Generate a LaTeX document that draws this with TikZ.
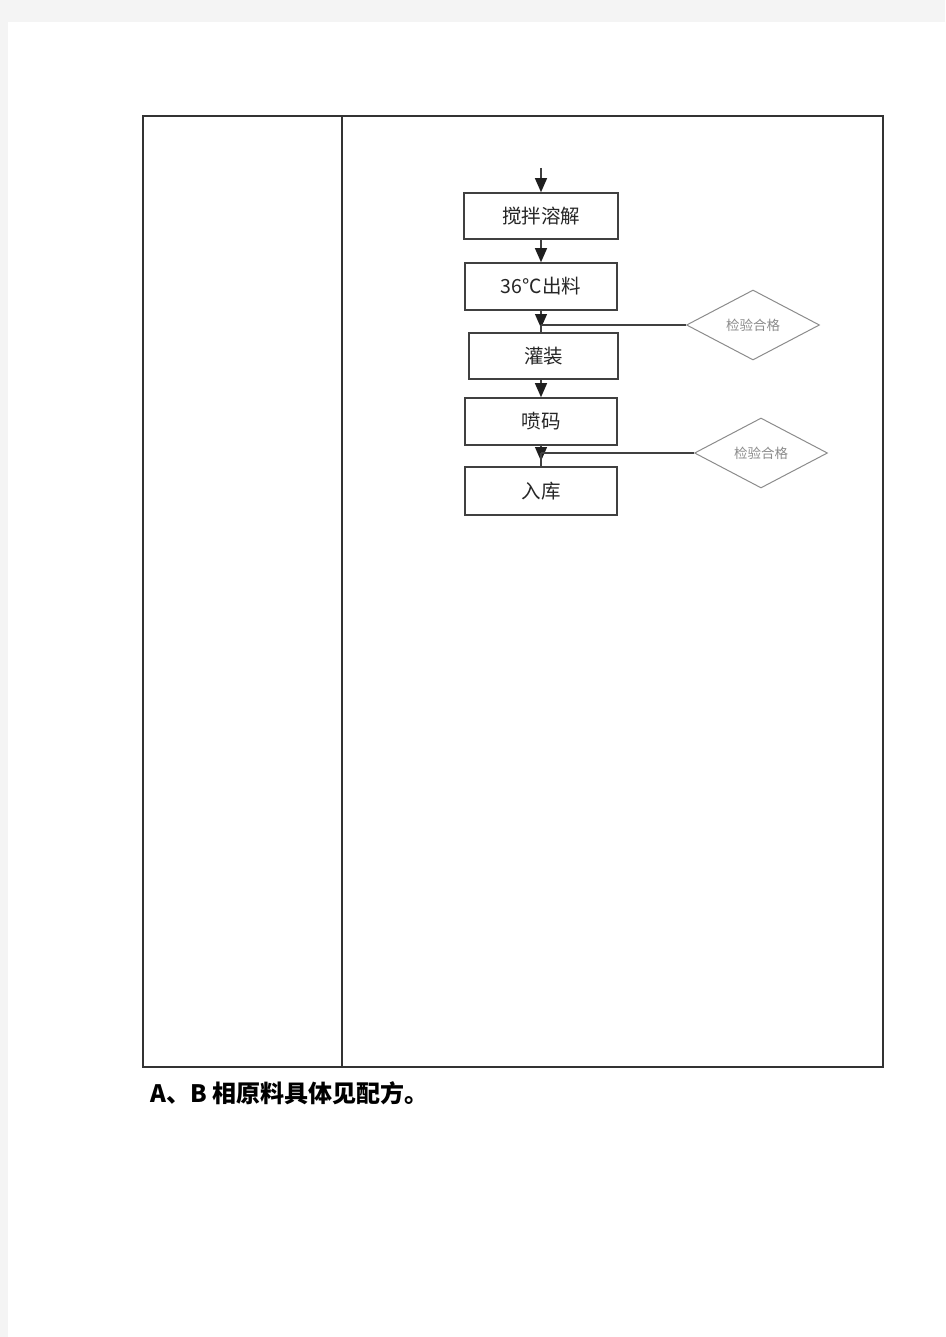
\documentclass[tikz,border=0pt]{standalone}
\usepackage{fontspec}
\usetikzlibrary{shapes.geometric,arrows.meta}
\newfontfamily\cjk{Noto Sans CJK SC}
\newlength{\du}
\setlength{\du}{1pt}
\definecolor{pagegray}{rgb}{0.957, 0.957, 0.957}
\definecolor{tablecolor}{rgb}{0.200, 0.200, 0.200}
\definecolor{boxcolor}{rgb}{0.250, 0.250, 0.250}
\definecolor{arrowcolor}{rgb}{0.120, 0.120, 0.120}
\definecolor{diacolor}{rgb}{0.550, 0.550, 0.550}
\tikzset{
  flowbox/.style={draw=boxcolor, line width=1.6\du, rectangle, inner sep=0pt,
    font=\cjk\fontsize{19.5}{19.5}\selectfont, text=black!85},
  checkdiamond/.style={draw=diacolor, line width=1\du, diamond, aspect=1.9, inner sep=0pt,
    minimum width=133\du, minimum height=70\du,
    font=\cjk\fontsize{13.5}{13.5}\selectfont, text=black!45},
  flowarrow/.style={draw=boxcolor, line width=1.2\du,
    -{Triangle[width=12pt,length=14pt,color=arrowcolor]}},
  flowline/.style={draw=boxcolor, line width=1.2\du},
}

\begin{document}
\begin{tikzpicture}
\pgftransformxscale{1.000000}
\pgftransformyscale{-1.000000}
\useasboundingbox (0\du,0\du) rectangle (945\du,1337\du);
% page
\fill[pagegray] (0\du,0\du) rectangle (945\du,1337\du);
\fill[white] (8\du,22\du) rectangle (945\du,1337\du);
% table
\draw[tablecolor, line width=1.5\du] (143\du,116\du) rectangle (883\du,1067\du);
\draw[tablecolor, line width=1.5\du] (342\du,116\du) -- (342\du,1067\du);
% process boxes
\node[flowbox, minimum width=154\du, minimum height=46\du] (jiaoban) at (541\du,216\du) {搅拌溶解};
\node[flowbox, minimum width=152\du, minimum height=47\du] (chuliao) at (541\du,286.5\du) {36℃出料};
\node[flowbox, minimum width=149\du, minimum height=46\du] (guanzhuang) at (543.5\du,356\du) {灌装};
\node[flowbox, minimum width=152\du, minimum height=47\du] (penma) at (541\du,421.5\du) {喷码};
\node[flowbox, minimum width=152\du, minimum height=48\du] (ruku) at (541\du,491\du) {入库};
% checks
\node[checkdiamond] (jianyanA) at (753\du,325\du) {检验合格};
\node[checkdiamond] (jianyanB) at (761\du,453\du) {检验合格};
\coordinate (start) at (541\du,168\du);
\coordinate (joinA) at (541\du,325\du);
\coordinate (joinB) at (541\du,453\du);
% connectors
\draw[flowarrow] (start) -- (jiaoban.north);
\draw[flowarrow] (jiaoban.south) -- (chuliao.north);
\draw[flowarrow] (chuliao.south) -- ([yshift=3pt]joinA);
\draw[flowline] (joinA) -- (joinA |- guanzhuang.north);
\draw[flowline] (jianyanA.west) -- (joinA);
\draw[flowarrow] (guanzhuang.south -| penma.north) -- (penma.north);
\draw[flowarrow] (penma.south) -- ([yshift=8pt]joinB);
\draw[flowline] (joinB) -- (ruku.north);
\draw[flowline] (jianyanB.west) -- (joinB);
% note
\node[anchor=base west, inner sep=0pt, font=\cjk\bfseries\fontsize{24}{24}\selectfont] (note) at (150\du,1102\du) {A、B 相原料具体见配方。};
\end{tikzpicture}
\end{document}
